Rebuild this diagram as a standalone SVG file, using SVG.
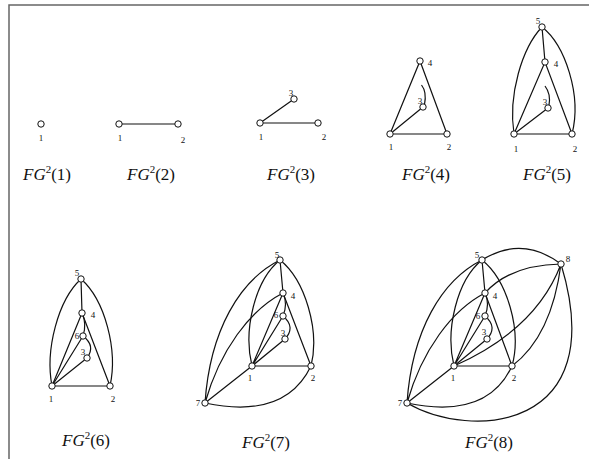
<svg xmlns="http://www.w3.org/2000/svg" width="589" height="459" viewBox="0 0 589 459">
<style>
.e{fill:none;stroke:#111;stroke-width:1.2}
.n{fill:#fff;stroke:#111;stroke-width:1}
.l{font-family:"Liberation Serif",serif;font-size:9px;fill:#111;text-anchor:middle}
.c{font-family:"Liberation Serif",serif;font-size:17px;fill:#111}
.fr{stroke:#666;stroke-width:1.5;fill:none}
</style>
<rect width="589" height="459" fill="#fff"/>
<path class="fr" d="M9 459 V5 H589"/>
<g id="connectors">
<path class="e" d="M119 124 H178"/>
<path class="e" d="M260 123 H318 M260 123 L294 99"/>
<path class="e" d="M390 134 H447 M390 134 L420 61 L447 134 M390 134 L423 107 M424.5 104.5 Q427 92 421.5 85"/>
<path class="e" d="M514 134 H572 M514 134 L545 62 L572 134 M514 134 L548 108 M542 27 L545 62 M549 105 Q551 94 545 86"/>
<path class="e" d="M542 27 C522 48 508 95 514 134 M542 27 C565 45 582 95 572 134"/>
<path class="e" d="M52 386 H110 M82 313 L110 386 M81 279 L82 313 M52 386 L83 336 M52 386 L87 358"/>
<path class="e" d="M81 279 C58 300 45 350 52 386 M81 279 C105 300 118 350 110 386 M52 386 Q70 342 82 313 M82 313 Q87 324 83 336 M83 336 Q96 346 87 358"/>
<path class="e" d="M252 366 H311 M283 293 L311 366 M280 260 L283 293 M252 366 L283 293 M252 366 L283 316 M252 366 L285 339 M205 403 L252 366"/>
<path class="e" d="M280 260 C255 280 243 330 252 366 M280 260 C305 280 320 330 311 366 M283 293 Q288 304 283 316 M283 316 Q296 327 285 339"/>
<path class="e" d="M205 403 C210 330 240 280 280 260 M205 403 C220 350 250 310 283 293 M205 403 Q285 420 311 366"/>
<path class="e" d="M454 366 H512 M485 293 L512 366 M482 260 L485 293 M454 366 L485 293 M454 366 L485 316 M454 366 L487 339 M407 403 L454 366"/>
<path class="e" d="M482 260 C457 280 445 330 454 366 M482 260 C507 280 522 330 512 366 M485 293 Q490 304 485 316 M485 316 Q498 327 487 339"/>
<path class="e" d="M407 403 C412 330 442 280 482 260 M407 403 C422 350 452 310 485 293 M407 403 Q487 420 512 366"/>
<path class="e" d="M482 260 Q522 235 561 264 M561 264 Q510 265 485 293 M454 366 C490 350 540 320 561 264 M561 264 C555 310 540 345 512 366 M407 403 C470 440 612 432 561 264"/>
</g>
<g id="fg1">
<circle class="n" cx="41" cy="124" r="3.2"/>
<text class="l" x="41" y="141">1</text>
<text class="c" x="23" y="180"><tspan font-style="italic">FG</tspan><tspan font-size="11" dy="-7">2</tspan><tspan dy="7">(1)</tspan></text>
</g>
<g id="fg2">
<circle class="n" cx="119" cy="124" r="3.2"/><circle class="n" cx="178" cy="124" r="3.2"/>
<text class="l" x="120" y="141">1</text><text class="l" x="183" y="143">2</text>
<text class="c" x="127" y="180"><tspan font-style="italic">FG</tspan><tspan font-size="11" dy="-7">2</tspan><tspan dy="7">(2)</tspan></text>
</g>
<g id="fg3">
<circle class="n" cx="260" cy="123" r="3.2"/><circle class="n" cx="318" cy="123" r="3.2"/><circle class="n" cx="294" cy="99" r="3.2"/>
<text class="l" x="261" y="140">1</text><text class="l" x="324" y="140">2</text><text class="l" x="291" y="96">3</text>
<text class="c" x="267" y="180"><tspan font-style="italic">FG</tspan><tspan font-size="11" dy="-7">2</tspan><tspan dy="7">(3)</tspan></text>
</g>
<g id="fg4">
<circle class="n" cx="390" cy="134" r="3.2"/><circle class="n" cx="447" cy="134" r="3.2"/><circle class="n" cx="423" cy="107" r="3.2"/><circle class="n" cx="420" cy="61" r="3.2"/>
<text class="l" x="391" y="150">1</text><text class="l" x="449" y="150">2</text><text class="l" x="420" y="104">3</text><text class="l" x="430" y="66">4</text>
<text class="c" x="402" y="180"><tspan font-style="italic">FG</tspan><tspan font-size="11" dy="-7">2</tspan><tspan dy="7">(4)</tspan></text>
</g>
<g id="fg5">
<circle class="n" cx="514" cy="134" r="3.2"/><circle class="n" cx="572" cy="134" r="3.2"/><circle class="n" cx="548" cy="108" r="3.2"/><circle class="n" cx="545" cy="62" r="3.2"/><circle class="n" cx="542" cy="27" r="3.2"/>
<text class="l" x="516" y="152">1</text><text class="l" x="575" y="152">2</text><text class="l" x="545" y="105">3</text><text class="l" x="556" y="67">4</text><text class="l" x="538" y="24">5</text>
<text class="c" x="523" y="180"><tspan font-style="italic">FG</tspan><tspan font-size="11" dy="-7">2</tspan><tspan dy="7">(5)</tspan></text>
</g>
<g id="fg6">
<circle class="n" cx="52" cy="386" r="3.2"/><circle class="n" cx="110" cy="386" r="3.2"/><circle class="n" cx="87" cy="358" r="3.2"/><circle class="n" cx="82" cy="313" r="3.2"/><circle class="n" cx="81" cy="279" r="3.2"/><circle class="n" cx="83" cy="336" r="3.2"/>
<text class="l" x="51" y="402">1</text><text class="l" x="113" y="402">2</text><text class="l" x="83" y="355">3</text><text class="l" x="93" y="318">4</text><text class="l" x="77" y="276">5</text><text class="l" x="77" y="339">6</text>
<text class="c" x="62" y="446"><tspan font-style="italic">FG</tspan><tspan font-size="11" dy="-7">2</tspan><tspan dy="7">(6)</tspan></text>
</g>
<g id="fg7">
<circle class="n" cx="252" cy="366" r="3.2"/><circle class="n" cx="311" cy="366" r="3.2"/><circle class="n" cx="285" cy="339" r="3.2"/><circle class="n" cx="283" cy="293" r="3.2"/><circle class="n" cx="280" cy="260" r="3.2"/><circle class="n" cx="283" cy="316" r="3.2"/><circle class="n" cx="205" cy="403" r="3.2"/>
<text class="l" x="250" y="381">1</text><text class="l" x="313" y="381">2</text><text class="l" x="283" y="336">3</text><text class="l" x="293" y="299">4</text><text class="l" x="277" y="258">5</text><text class="l" x="276" y="318">6</text><text class="l" x="198" y="406">7</text>
<text class="c" x="242" y="448"><tspan font-style="italic">FG</tspan><tspan font-size="11" dy="-7">2</tspan><tspan dy="7">(7)</tspan></text>
</g>
<g id="fg8">
<circle class="n" cx="454" cy="366" r="3.2"/><circle class="n" cx="512" cy="366" r="3.2"/><circle class="n" cx="487" cy="339" r="3.2"/><circle class="n" cx="485" cy="293" r="3.2"/><circle class="n" cx="482" cy="260" r="3.2"/><circle class="n" cx="485" cy="316" r="3.2"/><circle class="n" cx="407" cy="403" r="3.2"/><circle class="n" cx="561" cy="264" r="3.2"/>
<text class="l" x="453" y="381">1</text><text class="l" x="514" y="381">2</text><text class="l" x="484" y="335">3</text><text class="l" x="495" y="299">4</text><text class="l" x="477" y="258">5</text><text class="l" x="478" y="319">6</text><text class="l" x="400" y="406">7</text><text class="l" x="568" y="262">8</text>
<text class="c" x="465" y="448"><tspan font-style="italic">FG</tspan><tspan font-size="11" dy="-7">2</tspan><tspan dy="7">(8)</tspan></text>
</g>
</svg>
